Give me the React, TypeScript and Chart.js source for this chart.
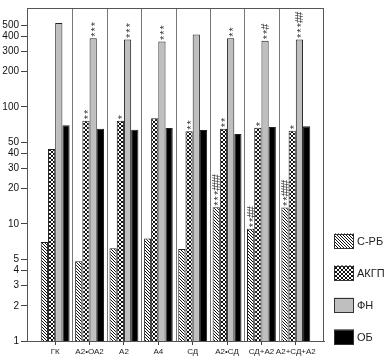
import React, { useEffect, useRef } from "react";
import { Chart, registerables } from "chart.js";

Chart.register(...registerables);

const categories = ["ГК", "А2•ОА2", "А2", "А4", "СД", "А2•СД", "СД+А2", "А2+СД+А2"];
const seriesNames = ["С-РБ", "АКГП", "ФН", "ОБ"];
const srbValues = [7.0, 4.8, 6.2, 7.5, 6.1, 13.9, 9.1, 13.8];
const akgpValues = [43.6, 76, 76, 80, 62, 65, 66.5, 62.5];
const fnValues = [520, 386, 377, 362, 415, 386, 367, 377];
const obValues = [69.8, 65, 63.8, 65.9, 63.5, 58.7, 67.2, 68.5];
const srbMarks = ["", "", "", "", "", "***###", "**##", "**###"];
const akgpMarks = ["", "**", "*", "", "**", "**", "*", "*"];
const fnMarks = ["", "***", "***", "***", "", "**", "**#", "***##"];
const obMarks = ["", "", "", "", "", "", "", ""];
const yTickValues = [1, 2, 3, 4, 5, 10, 20, 30, 40, 50, 100, 200, 300, 400, 500];

const FONT = "'Liberation Sans', Arial, sans-serif";

function makePattern(kind: "diag" | "cross"): CanvasPattern | string {
  const s = kind === "diag" ? 3 : 4;
  const c = document.createElement("canvas");
  c.width = s;
  c.height = s;
  const g = c.getContext("2d");
  if (!g) return "#888";
  g.fillStyle = "#ffffff";
  g.fillRect(0, 0, s, s);
  g.fillStyle = "#111111";
  for (let i = 0; i < s; i++) {
    g.fillRect(i, i, 1, 1);
    if (kind === "cross") g.fillRect(s - 1 - i, i, 1, 1);
  }
  const p = g.createPattern(c, "repeat");
  return p || "#888";
}

export default function App() {
  const ref = useRef<HTMLCanvasElement | null>(null);

  useEffect(() => {
    document.body.style.margin = "0";
    const canvas = ref.current;
    if (!canvas) return;

    const marks = [srbMarks, akgpMarks, fnMarks, obMarks];
    const values = [srbValues, akgpValues, fnValues, obValues];
    const fills = [makePattern("diag"), makePattern("cross"), "#bfbfbf", "#000000"];

    const framePlugin = {
      id: "frameDividers",
      beforeDatasetsDraw(chart: any) {
        const { ctx, chartArea } = chart;
        const xs = chart.scales.x;
        ctx.save();
        ctx.strokeStyle = "#777";
        ctx.lineWidth = 1;
        for (let i = 0; i < categories.length - 1; i++) {
          const px = Math.round(xs.getPixelForValue(i + 0.5)) + 0.5;
          ctx.beginPath();
          ctx.moveTo(px, chartArea.top);
          ctx.lineTo(px, chartArea.bottom);
          ctx.stroke();
        }
        ctx.strokeStyle = "#555";
        ctx.beginPath();
        ctx.moveTo(chartArea.left, Math.round(chartArea.top) + 0.5);
        ctx.lineTo(chartArea.right, Math.round(chartArea.top) + 0.5);
        ctx.moveTo(Math.round(chartArea.right) - 0.5, chartArea.top);
        ctx.lineTo(Math.round(chartArea.right) - 0.5, chartArea.bottom);
        ctx.stroke();
        ctx.restore();
      },
    };

    const marksPlugin = {
      id: "barMarks",
      afterDatasetsDraw(chart: any) {
        const { ctx } = chart;
        ctx.save();
        ctx.fillStyle = "#333";
        ctx.font = `11px ${FONT}`;
        ctx.textAlign = "left";
        ctx.textBaseline = "alphabetic";
        chart.data.datasets.forEach((_: any, di: number) => {
          const meta = chart.getDatasetMeta(di);
          meta.data.forEach((el: any, j: number) => {
            const txt = marks[di][j] || "";
            for (let k = 0; k < txt.length; k++) {
              const ch = txt[k];
              const m = ctx.measureText(ch);
              const hx = (m.actualBoundingBoxRight - m.actualBoundingBoxLeft) / 2;
              const vy = (m.actualBoundingBoxAscent - m.actualBoundingBoxDescent) / 2;
              const cy = el.y - 4 - k * 5.3;
              ctx.save();
              ctx.translate(el.x, cy);
              ctx.rotate(-Math.PI / 2);
              ctx.fillText(ch, -hx, vy);
              ctx.restore();
            }
          });
        });
        ctx.restore();
      },
    };

    const legendPlugin = {
      id: "sideLegend",
      afterDraw(chart: any) {
        const { ctx } = chart;
        ctx.save();
        const boxX = 334;
        const boxW = 20;
        const boxH = 15;
        const centers = [241, 273, 305, 337];
        chart.data.datasets.forEach((ds: any, i: number) => {
          const cy = centers[i];
          ctx.fillStyle = ds.backgroundColor;
          ctx.fillRect(boxX, cy - boxH / 2, boxW, boxH);
          ctx.strokeStyle = "#333";
          ctx.lineWidth = 1;
          ctx.strokeRect(boxX + 0.5, Math.round(cy - boxH / 2) + 0.5, boxW - 1, boxH - 1);
          ctx.fillStyle = "#222";
          ctx.font = `11px ${FONT}`;
          ctx.textAlign = "left";
          ctx.textBaseline = "middle";
          ctx.fillText(ds.label, boxX + boxW + 3, cy + 0.5);
        });
        ctx.restore();
      },
    };

    const chart = new Chart(canvas, {
      type: "bar",
      data: {
        datasets: seriesNames.map((name, i) => ({
          label: name,
          data: values[i].map((v, j) => ({ x: j, y: v })),
          backgroundColor: fills[i] as any,
          borderColor: "#222",
          borderWidth: 1,
          categoryPercentage: 0.84,
          barPercentage: 1.0,
        })),
      },
      options: {
        animation: false,
        responsive: false,
        devicePixelRatio: 1,
        layout: { padding: { top: 2, right: 66, left: 0, bottom: 0 } },
        plugins: {
          legend: { display: false },
          tooltip: { enabled: false },
        },
        scales: {
          x: {
            type: "linear",
            min: -0.82,
            max: 7.82,
            offset: false,
            afterFit: (s: any) => {
              s.height = 17;
            },
            afterBuildTicks: (s: any) => {
              s.ticks = categories.map((_, i) => ({ value: i }));
            },
            grid: {
              offset: false,
              drawOnChartArea: false,
              drawTicks: true,
              tickLength: 4,
              color: "#444",
            },
            border: { display: true, color: "#555" },
            ticks: {
              autoSkip: false,
              maxRotation: 0,
              minRotation: 0,
              padding: 2,
              color: "#222",
              font: { family: FONT, size: 8 },
              callback: (v: any) => categories[Math.round(Number(v))] ?? "",
            },
          },
          y: {
            type: "logarithmic",
            min: 1,
            max: 700,
            afterFit: (s: any) => {
              s.width = 27;
            },
            afterBuildTicks: (s: any) => {
              s.ticks = yTickValues.map((v) => ({ value: v }));
            },
            grid: {
              drawOnChartArea: false,
              drawTicks: true,
              tickLength: 6,
              color: "#444",
            },
            border: { display: true, color: "#555" },
            ticks: {
              padding: 2,
              color: "#111",
              font: { family: FONT, size: 10 },
              callback: (v: any) => String(v),
            },
          },
        },
      },
      plugins: [framePlugin, marksPlugin, legendPlugin],
    } as any);

    return () => {
      chart.destroy();
    };
  }, []);

  return (
    <div style={{ width: 390, height: 358 }}>
      <canvas ref={ref} width={390} height={358} style={{ display: "block", width: 390, height: 358 }} />
    </div>
  );
}
